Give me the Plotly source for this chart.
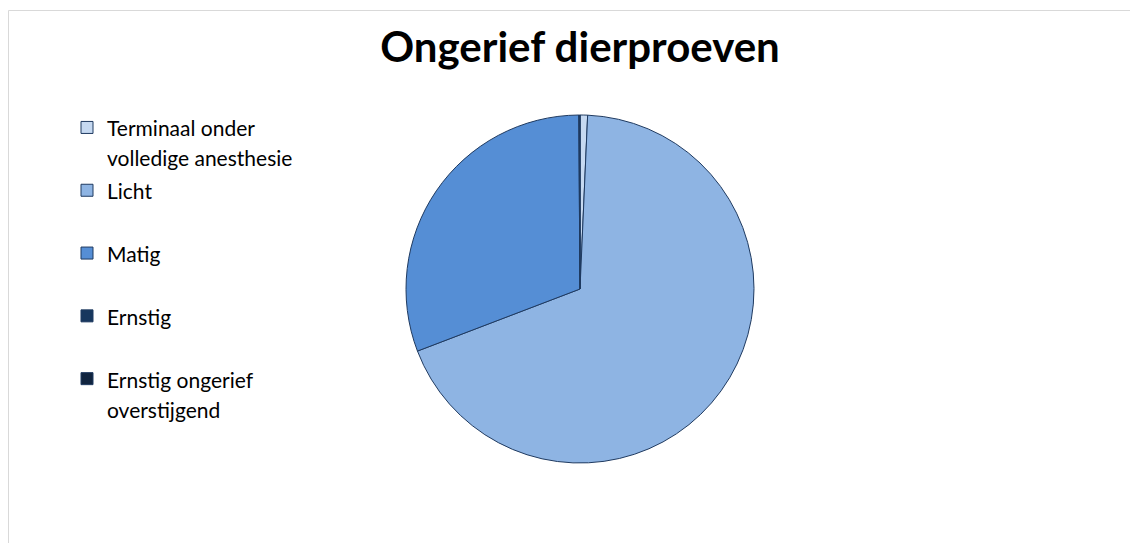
import plotly.graph_objects as go

categories = ["Terminaal onder<br>volledige anesthesie", "Licht<br> ", "Matig<br> ", "Ernstig<br> ", "Ernstig ongerief<br>overstijgend"]
values = [0.7, 68.5, 30.7, 0.1, 0.01]
colors = ["#c6d9f1", "#8eb4e3", "#558ed5", "#17375e", "#10243f"]

W, H = 1138, 543
OFF = 8  # page body margin
cx, cy, r = 580 - OFF, 289 - OFF, 174

labels = ['<span style="font-size:21px">' + c + '</span>' for c in categories]

fig = go.Figure(go.Pie(
    labels=labels, values=values, sort=False, direction="clockwise", rotation=0,
    textinfo="none", hoverinfo="label+percent",
    marker=dict(colors=colors, line=dict(color="#1f3a60", width=1)),
    domain=dict(x=[(cx - r) / W, (cx + r) / W], y=[(H - cy - r) / H, (H - cy + r) / H]),
))

fig.update_layout(
    width=W, height=H,
    margin=dict(l=0, r=0, t=0, b=0),
    paper_bgcolor="white",
    title=dict(text="<b>Ongerief dierproeven</b>", x=cx / W, xanchor="center",
               y=1 - (47 - OFF) / H, yanchor="middle", yref="paper",
               font=dict(family="Lato", size=42, color="black")),
    legend=dict(x=59 / W, y=1 - 98 / H, xanchor="left", yanchor="top",
                valign="top", font=dict(family="Lato", size=23, color="black"),
                bgcolor="rgba(0,0,0,0)"),
    font=dict(family="Lato"),
    shapes=[
        dict(type="line", xref="paper", yref="paper", x0=0.5 / W, x1=1, y0=1 - 2.5 / H, y1=1 - 2.5 / H,
             line=dict(color="#d9d9d9", width=1)),
        dict(type="line", xref="paper", yref="paper", x0=0.5 / W, x1=0.5 / W, y0=0, y1=1 - 2.5 / H,
             line=dict(color="#d9d9d9", width=1)),
    ],
)

fig.write_html("out.html")
